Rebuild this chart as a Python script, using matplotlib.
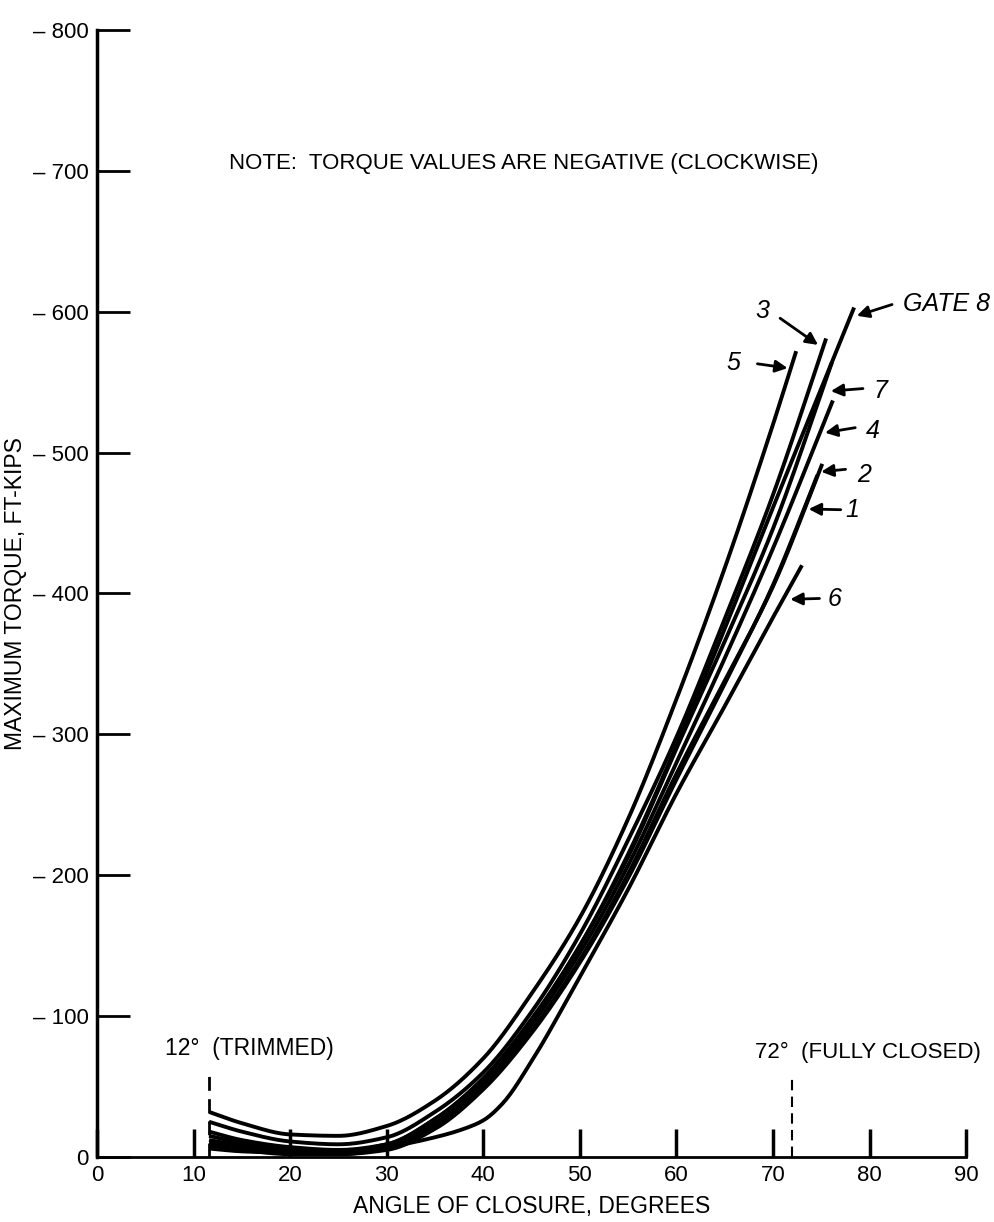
import numpy as np
import matplotlib
matplotlib.use("Agg")
import matplotlib.pyplot as plt

plt.rcParams['font.family'] = ['Liberation Sans', 'DejaVu Sans']

# angle of closure (deg) and max torque (ft-kips, shown as negative)
angles = [11.6, 15, 20, 25, 30, 35, 40, 45, 50, 55, 60, 65, 70]
gate5 = [32, 24, 16, 15, 22, 40, 70, 116, 170, 240, 325, 418, 520, 572]
gate3 = [25, 18, 11, 9, 14, 32, 60, 103, 158, 225, 298, 382, 470, 581]
gate8 = [18, 12, 7, 5, 9, 27, 56, 98, 150, 215, 292, 375, 461, 603]
gate7 = [15, 10, 5, 4, 9, 27, 55, 97, 150, 213, 290, 366, 446, 564]
gate4 = [12, 8, 4, 3, 7, 24, 52, 94, 145, 207, 280, 354, 432, 537]
gate2 = [10, 6, 3, 2, 6, 22, 50, 90, 140, 201, 272, 338, 405, 492]
gate1 = [8, 5, 2, 2, 5, 20, 48, 88, 138, 198, 268, 336, 406, 484]
end_angles = {'5': 72.4, '3': 75.5, '8': 78.4, '7': 76.1, '4': 76.2, '2': 75.1, '1': 74.6}

angles6 = [11.6, 15, 20, 25, 30, 35, 38, 40, 42, 45, 50, 55, 60, 65, 70, 73]
gate6 = [6, 4, 3, 3, 7, 14, 20, 26, 38, 68, 128, 190, 258, 320, 383, 420]

# label text, text position, arrow tail, arrow head
labels = [
    ('GATE 8', (83.5, 605.7), (82.6, 605.7), (78.4, 596.5)),
    ('3', (68.9, 600.7), (70.5, 596.5), (74.9, 575.3)),
    ('5', (65.9, 563.3), (68.1, 563.3), (71.8, 559.7)),
    ('7', (81.1, 543.5), (79.6, 545.6), (75.7, 543.5)),
    ('4', (80.3, 515.2), (78.8, 518.0), (75.1, 513.8)),
    ('2', (79.4, 484.0), (77.8, 488.3), (74.7, 486.2)),
    ('1', (78.2, 459.4), (77.3, 459.4), (73.4, 460.0)),
    ('6', (76.4, 395.8), (75.1, 396.5), (71.5, 395.8)),
]


def pchip(x, y, xn):
    x = np.asarray(x, float); y = np.asarray(y, float)
    h = np.diff(x); d = np.diff(y) / h
    m = np.zeros_like(y)
    for k in range(1, len(x) - 1):
        if d[k - 1] * d[k] > 0:
            w1 = 2 * h[k] + h[k - 1]; w2 = h[k] + 2 * h[k - 1]
            m[k] = (w1 + w2) / (w1 / d[k - 1] + w2 / d[k])
    m[0] = d[0]; m[-1] = d[-1]
    i = np.clip(np.searchsorted(x, xn) - 1, 0, len(h) - 1)
    t = (xn - x[i]) / h[i]
    h00 = 2*t**3 - 3*t**2 + 1; h10 = t**3 - 2*t**2 + t
    h01 = -2*t**3 + 3*t**2; h11 = t**3 - t**2
    return h00*y[i] + h10*h[i]*m[i] + h01*y[i+1] + h11*h[i]*m[i+1]


fig = plt.figure(figsize=(9.95, 12.22), dpi=100)
ax = fig.add_axes([0.0975, 0.0532, 0.8735, 0.9223])

curves = [('5', gate5), ('3', gate3), ('8', gate8), ('7', gate7),
          ('4', gate4), ('2', gate2), ('1', gate1)]
for name, vals in curves:
    xs = angles + [end_angles[name]]
    xn = np.linspace(xs[0], xs[-1], 300)
    ax.plot(xn, pchip(xs, vals, xn), color='black', lw=2.8, solid_capstyle='butt')
xn = np.linspace(angles6[0], angles6[-1], 300)
ax.plot(xn, pchip(angles6, gate6, xn), color='black', lw=2.8, solid_capstyle='butt')

# trimmed / fully closed markers
ax.plot([11.6, 11.6], [0, 59], color='black', lw=2, dashes=(5, 3))
ax.plot([72, 72], [0, 58], color='black', lw=1.5, dashes=(5, 3))
ax.text(7.0, 77, '12\u00b0  (TRIMMED)', fontsize=16.5, va='center', ha='left')
ax.text(68.1, 74, '72\u00b0  (FULLY CLOSED)', fontsize=16, va='center', ha='left')
ax.text(13.7, 705, 'NOTE:  TORQUE VALUES ARE NEGATIVE (CLOCKWISE)', fontsize=16,
        va='center', ha='left')

for txt, tpos, tail, head in labels:
    ax.text(tpos[0], tpos[1], txt, fontsize=18, style='italic', va='center',
            ha='left' if txt.startswith('GATE') else 'center')
    ax.annotate('', xy=head, xytext=tail,
                arrowprops=dict(arrowstyle='-|>', color='black', lw=2, mutation_scale=18))

ax.set_xlim(0, 90)
ax.set_ylim(0, 800)
ax.set_xticks(range(0, 91, 10))
ax.set_yticks(range(0, 801, 100))
ax.set_yticklabels(['0'] + ['\u2013 %d' % v for v in range(100, 801, 100)])
ax.tick_params(axis='both', direction='in', labelsize=16, color='black')
ax.tick_params(axis='y', length=24, width=2, pad=6)
ax.tick_params(axis='x', length=20, width=2.5, pad=6)
for s in ['top', 'right']:
    ax.spines[s].set_visible(False)
ax.spines['left'].set_linewidth(2.5)
ax.spines['bottom'].set_linewidth(2)
ax.set_xlabel('ANGLE OF CLOSURE, DEGREES', fontsize=16.5, labelpad=6)
ax.set_ylabel('MAXIMUM TORQUE, FT-KIPS', fontsize=16.5, labelpad=4)

fig.savefig('out.png', dpi=100)
